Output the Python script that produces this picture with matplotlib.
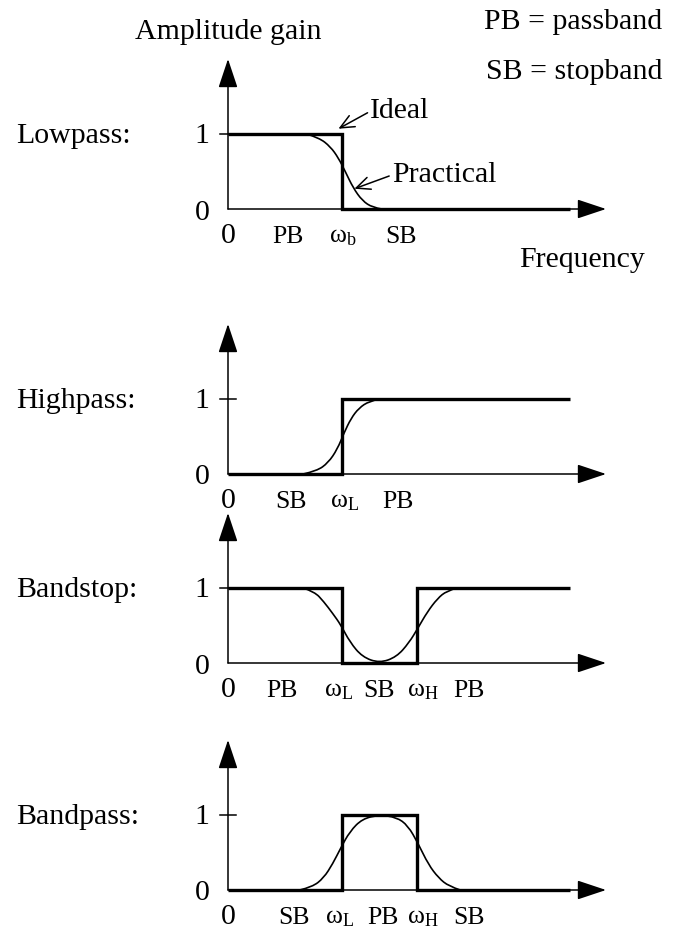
import matplotlib.pyplot as plt
from matplotlib.path import Path
from matplotlib.patches import PathPatch

plt.rcParams['font.family'] = ['Liberation Serif', 'DejaVu Serif']
plt.rcParams['mathtext.fontset'] = 'custom'
plt.rcParams['mathtext.rm'] = 'Liberation Serif'
plt.rcParams['mathtext.it'] = 'Liberation Serif:italic'

W, H = 677, 936

# filter names, one panel each
names = ['Lowpass:', 'Highpass:', 'Bandstop:', 'Bandpass:']

# ideal (brick wall) responses
ideal_x = [[0, 1, 1, 3],
           [0, 1, 1, 3],
           [0, 1, 1, 1.66, 1.66, 3],
           [0, 1, 1, 1.66, 1.66, 3]]
ideal_y = [[1, 1, 0, 0],
           [0, 0, 1, 1],
           [1, 1, 0, 0, 1, 1],
           [0, 0, 1, 1, 0, 0]]

# practical responses
prac_x = [[0.69, 0.80, 0.90, 0.97, 1.03, 1.10, 1.18, 1.27, 1.35],
          [0.66, 0.78, 0.88, 0.96, 1.02, 1.08, 1.15, 1.24, 1.33],
          [0.66, 0.76, 0.84, 0.92, 0.99, 1.07, 1.18, 1.33, 1.48, 1.59, 1.67, 1.75, 1.84, 1.92, 2.01],
          [0.63, 0.74, 0.84, 0.92, 0.99, 1.07, 1.18, 1.33, 1.48, 1.58, 1.67, 1.76, 1.85, 1.94, 2.04]]
prac_y = [[1.0, 0.95, 0.83, 0.68, 0.50, 0.28, 0.11, 0.02, 0.0],
          [0.0, 0.04, 0.15, 0.33, 0.55, 0.74, 0.88, 0.97, 1.0],
          [1.0, 0.95, 0.82, 0.66, 0.51, 0.28, 0.08, 0.0, 0.08, 0.27, 0.47, 0.68, 0.86, 0.96, 1.0],
          [0.0, 0.04, 0.16, 0.35, 0.56, 0.78, 0.95, 1.0, 0.97, 0.86, 0.62, 0.34, 0.16, 0.05, 0.0]]

# labels under the frequency axis
band_text = [['PB', r'$\mathrm{\omega_{b}}$', 'SB'],
             ['SB', r'$\mathrm{\omega_{L}}$', 'PB'],
             ['PB', r'$\mathrm{\omega_{L}}$', 'SB', r'$\mathrm{\omega_{H}}$', 'PB'],
             ['SB', r'$\mathrm{\omega_{L}}$', 'PB', r'$\mathrm{\omega_{H}}$', 'SB']]
band_pos = [[0.53, 1.01, 1.52],
            [0.55, 1.02, 1.49],
            [0.47, 0.97, 1.33, 1.71, 2.12],
            [0.58, 0.98, 1.36, 1.71, 2.12]]

zero_px = [209, 474, 663, 890]   # where each panel's 0 line sits

big = 21.5
small = 18.5
lw_thin = 1.1
lw_thick = 2.4


def smooth_path(xs, ys):
    pts = list(zip(xs, ys))
    verts = [pts[0]]
    codes = [Path.MOVETO]
    for i in range(1, len(pts) - 2):
        mid = ((pts[i][0] + pts[i + 1][0]) / 2, (pts[i][1] + pts[i + 1][1]) / 2)
        verts += [pts[i], mid]
        codes += [Path.CURVE3, Path.CURVE3]
    verts += [pts[-2], pts[-1]]
    codes += [Path.CURVE3, Path.CURVE3]
    return Path(verts, codes)


fig = plt.figure(figsize=(W / 100, H / 100), dpi=100)
axes = []
for k in range(4):
    ax = fig.add_axes([228 / W, 1 - zero_px[k] / H, 378 / W, 150 / H])
    ax.set_xlim(0, 3.32)
    ax.set_ylim(0, 2)
    ax.axis('off')
    axes.append(ax)

    arrow = dict(arrowstyle='-|>,head_length=1.8,head_width=0.6', lw=lw_thin,
                 color='k', shrinkA=0, shrinkB=0, mutation_scale=10)
    ax.annotate('', xy=(0, 2), xytext=(0, 0), arrowprops=arrow, annotation_clip=False)
    ax.annotate('', xy=(3.32, 0), xytext=(0, 0), arrowprops=arrow, annotation_clip=False)
    ax.plot([-0.07, 0.07], [1, 1], color='k', lw=lw_thin, clip_on=False)

    ax.plot(ideal_x[k], ideal_y[k], color='k', lw=lw_thick, clip_on=False,
            solid_joinstyle='miter', solid_capstyle='butt')
    ax.add_patch(PathPatch(smooth_path(prac_x[k], prac_y[k]), fill=False,
                           lw=1.2, edgecolor='k', clip_on=False))

    ax.text(-1.86, 1 - 0.12, names[k], fontsize=big, ha='left', va='baseline')
    ax.text(-0.23, 1 - 0.12, '1', fontsize=big, ha='center', va='baseline')
    ax.text(-0.23, -0.14, '0', fontsize=big, ha='center', va='baseline')
    ax.text(0, -0.45, '0', fontsize=big, ha='center', va='baseline')
    for t, p in zip(band_text[k], band_pos[k]):
        ax.text(p, -0.45, t, fontsize=small, ha='center', va='baseline')

ax = axes[0]
ax.text(0, 2.27, 'Amplitude gain', fontsize=big, ha='center', va='baseline')
ax.text(2.25, 2.4, 'PB = passband', fontsize=big, ha='left', va='baseline')
ax.text(2.27, 1.73, 'SB = stopband', fontsize=big, ha='left', va='baseline')
ax.text(2.56, -0.77, 'Frequency', fontsize=big, ha='left', va='baseline')

pointer = dict(arrowstyle='->,head_length=1.0,head_width=0.45', lw=lw_thin,
               color='k', shrinkA=0, shrinkB=0, mutation_scale=10)
ax.annotate('Ideal', xy=(0.97, 1.07), xytext=(1.25, 1.21), fontsize=big,
            ha='left', va='baseline', arrowprops=dict(pointer, relpos=(0, 0.5)),
            annotation_clip=False)
ax.annotate('Practical', xy=(1.11, 0.27), xytext=(1.44, 0.36), fontsize=big,
            ha='left', va='baseline', arrowprops=dict(pointer, relpos=(0, 0.5)),
            annotation_clip=False)

fig.savefig('out.png', dpi=100)
